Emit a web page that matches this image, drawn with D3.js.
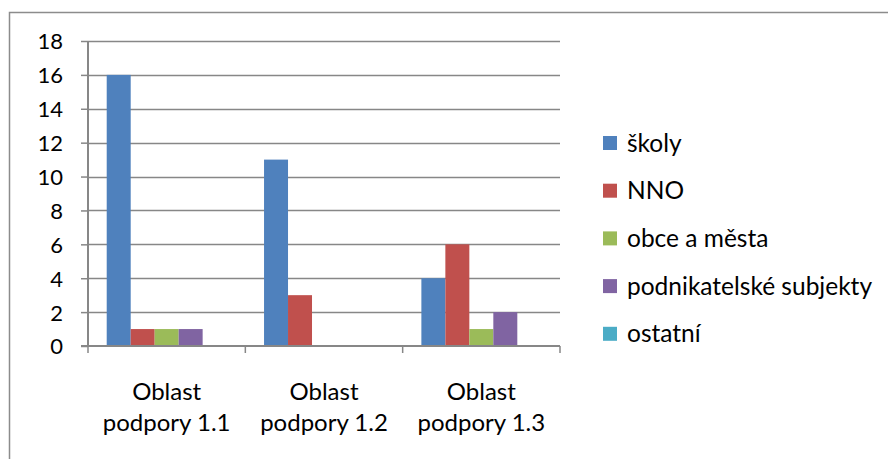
<!DOCTYPE html>
<meta charset="utf-8">
<style>
  body { margin: 0; background: #fff; }
  text { font-family: Lato, "Open Sans", sans-serif; fill: #000; }
</style>
<body>
<div id="chart"></div>
<script src="https://cdnjs.cloudflare.com/ajax/libs/d3/7.8.5/d3.min.js"></script>
<script>
// data
var categories = [["Oblast", "podpory 1.1"], ["Oblast", "podpory 1.2"], ["Oblast", "podpory 1.3"]];
var seriesNames = ["školy", "NNO", "obce a města", "podnikatelské subjekty", "ostatní"];
var skoly = [16, 11, 4];
var nno = [1, 3, 6];
var obce = [1, 0, 1];
var podnikatelske = [1, 0, 2];
var ostatni = [0, 0, 0];
var yTicks = [0, 2, 4, 6, 8, 10, 12, 14, 16, 18];

var colors = ["#4F81BD", "#C0504D", "#9BBB59", "#8064A2", "#4BACC6"];
var values = [skoly, nno, obce, podnikatelske, ostatni];

var W = 888, H = 459;
var plot = {left: 88, right: 560, top: 41, bottom: 346};

var svg = d3.select("#chart").append("svg")
    .attr("width", W)
    .attr("height", H);

// chart border (only left/top visible in the reference)
svg.append("rect")
    .attr("x", 9.5).attr("y", 12.5)
    .attr("width", W + 20).attr("height", H + 20)
    .attr("fill", "none")
    .attr("stroke", "#8c8c8c")
    .attr("stroke-width", 1.5);

// scales
var x = d3.scaleBand()
    .domain(d3.range(categories.length))
    .range([plot.left, plot.right]);

var xs = d3.scaleBand()
    .domain(d3.range(seriesNames.length))
    .range([0, x.bandwidth()])
    .paddingOuter(0.78);

var y = d3.scaleLinear()
    .domain([0, 18])
    .range([plot.bottom, plot.top]);

// gridlines
svg.append("g")
  .selectAll("line")
  .data(yTicks.filter(function(d) { return d > 0; }))
  .enter().append("line")
    .attr("x1", plot.left).attr("x2", plot.right)
    .attr("y1", function(d) { return Math.round(y(d)) + 0.5; })
    .attr("y2", function(d) { return Math.round(y(d)) + 0.5; })
    .attr("stroke", "#878787")
    .attr("stroke-width", 1.3);

// bars
values.forEach(function(vals, s) {
  svg.append("g").selectAll("rect")
    .data(vals)
    .enter().append("rect")
      .attr("x", function(d, i) { return x(i) + xs(s); })
      .attr("y", function(d) { return y(d); })
      .attr("width", xs.bandwidth())
      .attr("height", function(d) { return y(0) - y(d); })
      .attr("fill", colors[s]);
});

// y axis
var yAxis = svg.append("g")
    .attr("transform", "translate(" + plot.left + ",0)")
    .call(d3.axisLeft(y).tickValues(yTicks).tickSize(7).tickPadding(18));
yAxis.select(".domain").attr("stroke", "#878787").attr("stroke-width", 2)
    .attr("d", "M0," + plot.top + "V" + plot.bottom);
yAxis.selectAll(".tick line").attr("stroke", "#878787").attr("stroke-width", 1.5);
yAxis.selectAll(".tick text")
    .style("font-size", "22px")
    .attr("dy", "0.36em");

// x axis
var xAxis = svg.append("g")
    .attr("transform", "translate(0," + plot.bottom + ")");
xAxis.append("line")
    .attr("x1", plot.left - 7).attr("x2", plot.right)
    .attr("stroke", "#878787").attr("stroke-width", 2);
xAxis.selectAll(".xtick")
    .data(d3.range(categories.length + 1))
    .enter().append("line")
      .attr("x1", function(d) { return d < categories.length ? x(d) : plot.right; })
      .attr("x2", function(d) { return d < categories.length ? x(d) : plot.right; })
      .attr("y1", 0).attr("y2", 7)
      .attr("stroke", "#878787").attr("stroke-width", 1.5);

xAxis.selectAll(".xlabel")
    .data(categories)
    .enter().append("text")
      .attr("text-anchor", "middle")
      .attr("transform", function(d, i) {
        return "translate(" + (x(i) + x.bandwidth() / 2) + ",0)";
      })
      .style("font-size", "24px")
      .each(function(d) {
        var t = d3.select(this);
        t.append("tspan").attr("x", 0).attr("y", 54).text(d[0]);
        t.append("tspan").attr("x", 0).attr("y", 85).text(d[1]);
      });

// legend
var legend = svg.append("g")
    .attr("transform", "translate(603,136)");
var item = legend.selectAll("g")
    .data(seriesNames)
    .enter().append("g")
      .attr("transform", function(d, i) { return "translate(0," + (i * 47.7) + ")"; });
item.append("rect")
    .attr("width", 14).attr("height", 14)
    .attr("fill", function(d, i) { return colors[i]; });
item.append("text")
    .attr("x", 24).attr("y", 15.5)
    .style("font-size", "24.5px")
    .text(function(d) { return d; });
</script>
</body>
